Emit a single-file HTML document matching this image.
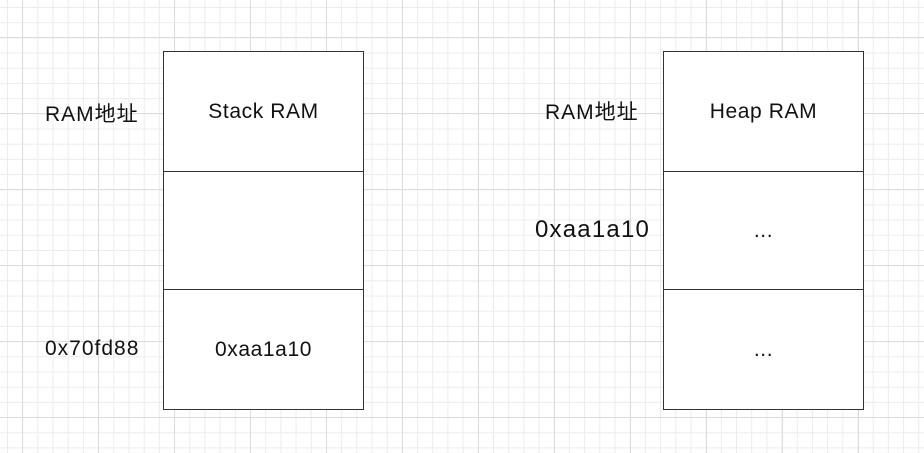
<!DOCTYPE html>
<html><head><meta charset="utf-8"><style>
body{margin:0;width:924px;height:453px;overflow:hidden;background:#fff;position:relative;
font-family:"Liberation Sans","Noto Sans CJK SC",sans-serif;}
.grid{position:absolute;inset:0;
background-image:
linear-gradient(to right,#dcdcdc 1px,transparent 1px),
linear-gradient(to bottom,#dcdcdc 1px,transparent 1px),
linear-gradient(to right,#ececec 1px,transparent 1px),
linear-gradient(to bottom,#ececec 1px,transparent 1px);
background-size:76px 76px,76px 76px,15.2px 15.2px,15.2px 15.2px;
background-position:22px 37px,22px 37px,7px 7px,7px 7px;}
.c{position:absolute;background:#fff;border:1px solid #333;box-sizing:border-box;display:flex;align-items:center;justify-content:center;font-size:21px;letter-spacing:0.6px;color:#111}
.t{position:absolute;font-size:21px;letter-spacing:1px;color:#111;white-space:nowrap}
</style></head><body><div class="grid"></div>
<div class="c" style="left:163px;top:51px;width:201px;height:121px">Stack RAM</div>
<div class="c" style="left:163px;top:171px;width:201px;height:119px"></div>
<div class="c" style="left:163px;top:289px;width:201px;height:121px">0xaa1a10</div>
<div class="c" style="left:663px;top:51px;width:201px;height:121px">Heap RAM</div>
<div class="c" style="left:663px;top:171px;width:201px;height:119px">...</div>
<div class="c" style="left:663px;top:289px;width:201px;height:121px">...</div>
<div class="t" style="left:45px;top:98px">RAM地址</div>
<div class="t" style="left:45px;top:337px">0x70fd88</div>
<div class="t" style="left:545px;top:96px">RAM地址</div>
<div class="t" style="left:535px;top:216px;font-size:24px;letter-spacing:1.2px">0xaa1a10</div>
</body></html>
